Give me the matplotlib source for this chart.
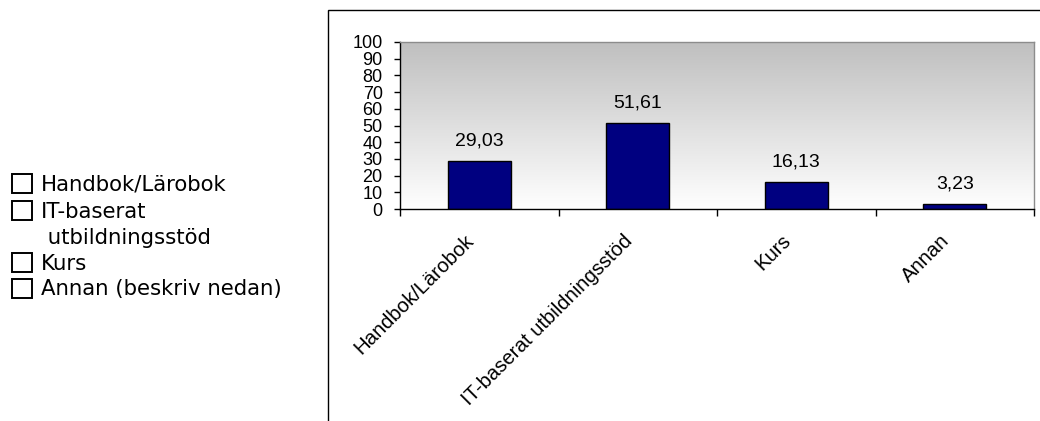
import numpy as np
import matplotlib
matplotlib.use("Agg")
import matplotlib.pyplot as plt
from matplotlib.patches import Rectangle
from matplotlib.transforms import ScaledTranslation

categories = ["Handbok/Lärobok", "IT-baserat utbildningsstöd", "Kurs", "Annan"]
values = [29.03, 51.61, 16.13, 3.23]
value_labels = ["29,03", "51,61", "16,13", "3,23"]
y_ticks = list(range(0, 101, 10))
options = ["Handbok/Lärobok", "IT-baserat", "Kurs", "Annan (beskriv nedan)"]
option_wrap = " utbildningsstöd"

W, H = 1040, 421
fig = plt.figure(figsize=(W / 100, H / 100), dpi=100)
fig.patch.set_facecolor("white")


def fx(x):
    return x / W


def fy(y):
    return 1 - y / H


# chart frame
fig.patches.append(Rectangle((fx(327.5), fy(440)), fx(760), fy(9.5) - fy(440),
                             transform=fig.transFigure, fill=False,
                             edgecolor="black", linewidth=1.0))

ax = fig.add_axes([fx(400), fy(209), fx(1034) - fx(400), fy(42) - fy(209)])

# gray-to-white gradient in plot area (row 0 = top)
grad = np.linspace(0, 1, 256).reshape(-1, 1)
top, bot = np.array([0.75, 0.75, 0.75]), np.array([1.0, 1.0, 1.0])
img = top + (bot - top) * grad[..., None]
ax.imshow(img, extent=[-0.5, len(categories) - 0.5, 0, 100], aspect="auto",
          zorder=0, origin="upper")

x = np.arange(len(categories))
ax.bar(x, values, width=0.4, color="#000080", edgecolor="black",
       linewidth=1.0, zorder=2)

for xi, v, lab in zip(x, values, value_labels):
    ax.annotate(lab, (xi, v), xytext=(0, 8), textcoords="offset points",
                ha="center", va="bottom", fontsize=14,
                family="Liberation Sans")

ax.set_xlim(-0.5, len(categories) - 0.5)
ax.set_ylim(0, 100)
ax.set_yticks(y_ticks)
ax.set_yticklabels([str(t) for t in y_ticks], fontsize=13,
                   family="Liberation Sans")
ax.yaxis.set_tick_params(pad=8, length=4.5, width=1, direction="out")

ax.set_xticks(np.arange(len(categories) + 1) - 0.5)
ax.set_xticklabels([])
ax.xaxis.set_tick_params(length=5, width=1, direction="out")
ax.set_xticks(x, minor=True)
ax.set_xticklabels(categories, minor=True, rotation=45, ha="right",
                   rotation_mode="anchor", fontsize=14.6,
                   family="Liberation Sans")
ax.xaxis.set_tick_params(which="minor", length=0, pad=16)
shift = ScaledTranslation(-0.15, 0, fig.dpi_scale_trans)
for lbl in ax.get_xticklabels(minor=True):
    lbl.set_transform(lbl.get_transform() + shift)

for s in ["left", "bottom"]:
    ax.spines[s].set_color("black")
    ax.spines[s].set_linewidth(1.0)
for s in ["top", "right"]:
    ax.spines[s].set_color("#8c8c8c")
    ax.spines[s].set_linewidth(1.0)

# checkbox list on the left
rows = [183.5, 210.5, 262.5, 288.5]
for yc, lab in zip(rows, options):
    fig.patches.append(Rectangle((fx(11.5), fy(yc + 9.5)), fx(20), fy(0) - fy(19),
                                 transform=fig.transFigure, fill=False,
                                 edgecolor="black", linewidth=1.4))
    fig.text(fx(41), fy(yc + 7), lab, ha="left", va="baseline",
             fontsize=15.3, family="DejaVu Sans")
fig.text(fx(41), fy(236.5 + 7), option_wrap, ha="left", va="baseline",
         fontsize=15.3, family="DejaVu Sans")

fig.savefig("out.png", dpi=100)
